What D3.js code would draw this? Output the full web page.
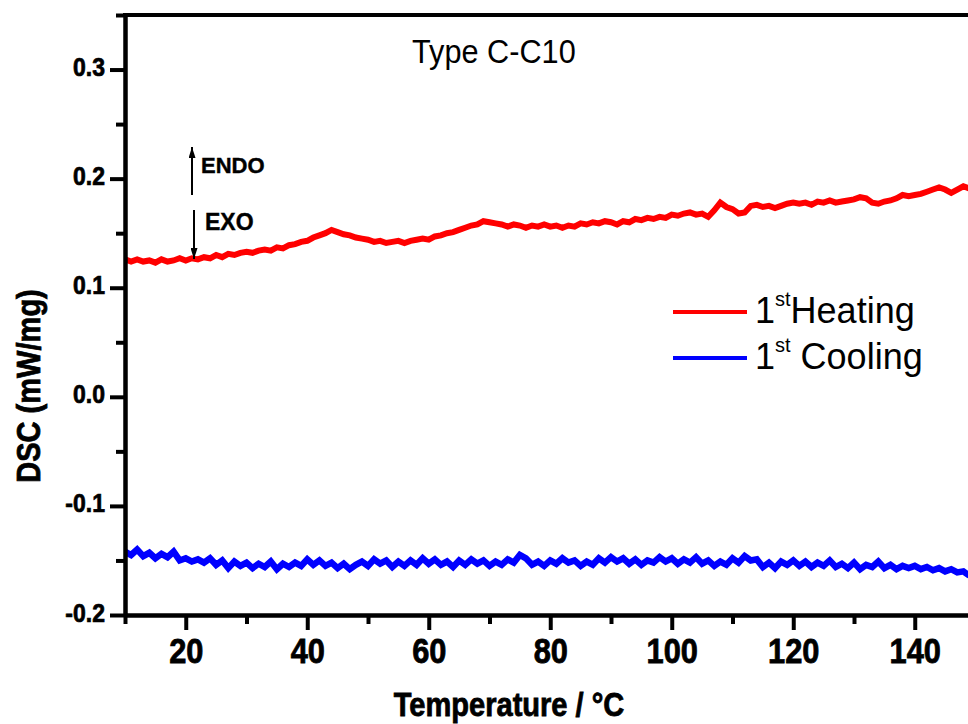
<!DOCTYPE html>
<html><head><meta charset="utf-8">
<script src="https://cdn.jsdelivr.net/npm/d3@7"></script>
<style>
html,body{margin:0;padding:0;background:#fff;}
svg{display:block;}
text{font-family:"Liberation Sans",Arial,sans-serif;}
</style></head>
<body>
<svg id="c" width="968" height="724"></svg>
<script>
const temps = [10,11,12,13,14,15,16,17,18,19,20,21,22,23,24,25,26,27,28,29,30,31,32,33,34,35,36,37,38,39,40,41,42,43,44,45,46,47,48,49,50,51,52,53,54,55,56,57,58,59,60,61,62,63,64,65,66,67,68,69,70,71,72,73,74,75,76,77,78,79,80,81,82,83,84,85,86,87,88,89,90,91,92,93,94,95,96,97,98,99,100,101,102,103,104,105,106,107,108,109,110,111,112,113,114,115,116,117,118,119,120,121,122,123,124,125,126,127,128,129,130,131,132,133,134,135,136,137,138,139,140,141,142,143,144,145,146,147,148,149];
const heating = [.126,.124,.126,.124,.125,.123,.126,.124,.125,.127,.125,.127,.126,.128,.127,.130,.128,.131,.130,.132,.133,.132,.134,.135,.134,.137,.136,.139,.140,.142,.143,.146,.148,.150,.153,.151,.149,.148,.146,.145,.144,.142,.143,.141,.142,.143,.141,.143,.144,.145,.144,.147,.148,.150,.151,.153,.155,.157,.158,.161,.160,.159,.158,.156,.158,.157,.155,.157,.156,.158,.156,.157,.155,.157,.156,.159,.158,.160,.159,.161,.160,.158,.161,.160,.163,.162,.164,.163,.165,.164,.167,.166,.168,.169,.167,.168,.165,.171,.178,.174,.172,.168,.169,.175,.176,.174,.175,.173,.175,.177,.178,.177,.178,.176,.179,.178,.180,.178,.179,.180,.181,.183,.182,.178,.177,.179,.180,.182,.185,.184,.185,.186,.188,.190,.192,.190,.187,.190,.193,.191];
const cooling = [-.142,-.145,-.140,-.146,-.143,-.148,-.144,-.147,-.142,-.150,-.148,-.151,-.149,-.152,-.148,-.154,-.150,-.157,-.151,-.155,-.152,-.157,-.153,-.156,-.151,-.158,-.153,-.156,-.152,-.155,-.149,-.154,-.150,-.155,-.152,-.157,-.153,-.158,-.154,-.151,-.155,-.149,-.153,-.150,-.156,-.151,-.155,-.150,-.154,-.148,-.153,-.149,-.154,-.151,-.156,-.150,-.154,-.149,-.153,-.150,-.155,-.151,-.154,-.149,-.152,-.145,-.148,-.154,-.151,-.155,-.150,-.153,-.148,-.152,-.150,-.155,-.151,-.154,-.148,-.152,-.147,-.151,-.148,-.153,-.149,-.154,-.150,-.152,-.147,-.151,-.148,-.153,-.149,-.152,-.147,-.153,-.150,-.155,-.151,-.154,-.148,-.152,-.146,-.150,-.149,-.156,-.152,-.157,-.151,-.154,-.150,-.155,-.151,-.156,-.152,-.155,-.150,-.156,-.153,-.157,-.152,-.158,-.154,-.156,-.151,-.157,-.154,-.158,-.155,-.157,-.155,-.158,-.156,-.159,-.157,-.160,-.158,-.161,-.160,-.164];
const xMajor = [20,40,60,80,100,120,140];
const xMinor = [10,30,50,70,90,110,130,150];
const yMajor = [-0.2,-0.1,0.0,0.1,0.2,0.3];
const yMajorLabels = ["-0.2","-0.1","0.0","0.1","0.2","0.3"];
const yMinor = [-0.15,-0.05,0.05,0.15,0.25,0.35];
const seriesNames = ["Heating","Cooling"];
const seriesColors = ["#ff0000","#0000ff"];
const title = "Type C-C10";
const xTitle = "Temperature / °C";
const yTitle = "DSC (mW/mg)";

const svg = d3.select("#c");
const L = 125, T = 15, B = 615;
const x = d3.scaleLinear().domain([10,150]).range([L, L + 140*6.075]);
const y = d3.scaleLinear().domain([-0.2,0.35]).range([B, T]);

svg.append("defs").append("clipPath").attr("id","clip")
  .append("rect").attr("x",L).attr("y",T).attr("width",968-L).attr("height",B-T);

// data lines
const line = d3.line().x((d,i)=>x(temps[i])).y(d=>y(d));
const g = svg.append("g").attr("clip-path","url(#clip)");
g.append("path").datum(cooling).attr("d",line).attr("fill","none")
  .attr("stroke",seriesColors[1]).attr("stroke-width",6.5).attr("stroke-linejoin","miter").attr("stroke-miterlimit",10);
g.append("path").datum(heating).attr("d",line).attr("fill","none")
  .attr("stroke",seriesColors[0]).attr("stroke-width",6).attr("stroke-linejoin","miter").attr("stroke-miterlimit",10);

function styleAxis(sel){
  sel.select(".domain").attr("stroke","#000").attr("stroke-width",4);
  sel.selectAll(".tick line").attr("stroke","#000").attr("stroke-width",4);
}
// minor ticks
svg.append("g").attr("transform",`translate(0,${B})`)
  .call(d3.axisBottom(x).tickValues(xMinor).tickSize(9).tickSizeOuter(0).tickFormat(""))
  .call(styleAxis);
svg.append("g").attr("transform",`translate(${L},0)`)
  .call(d3.axisLeft(y).tickValues(yMinor).tickSize(9).tickSizeOuter(0).tickFormat(""))
  .call(styleAxis);
// major
const xa = svg.append("g").attr("transform",`translate(0,${B})`)
  .call(d3.axisBottom(x).tickValues(xMajor).tickSize(15).tickSizeOuter(0).tickFormat(d3.format("d")))
  .call(styleAxis);
xa.selectAll(".tick text").attr("y",0).attr("dy",0)
  .attr("transform","translate(0,48) scale(0.88,1)")
  .attr("font-size",35).attr("font-weight","bold").attr("fill","#000")
  .attr("stroke","#000").attr("stroke-width",0.8);
const ya = svg.append("g").attr("transform",`translate(${L},0)`)
  .call(d3.axisLeft(y).tickValues(yMajor).tickSize(15).tickSizeOuter(0).tickFormat((d,i)=>yMajorLabels[i]))
  .call(styleAxis);
ya.selectAll(".tick text").attr("x",0).attr("dy",0)
  .attr("transform","translate(-20,6) scale(0.92,1)")
  .attr("font-size",25).attr("font-weight","bold").attr("fill","#000")
  .attr("stroke","#000").attr("stroke-width",0.7);

// top border
svg.append("line").attr("x1",L-2).attr("x2",968).attr("y1",T).attr("y2",T)
  .attr("stroke","#000").attr("stroke-width",4);

// titles
svg.append("text").attr("transform",`translate(509,716) scale(0.88,1)`)
  .attr("text-anchor","middle").attr("font-size",33).attr("font-weight","bold")
  .attr("stroke","#000").attr("stroke-width",0.8).text(xTitle);
svg.append("text").attr("transform",`translate(40,386) rotate(-90) scale(0.88,1)`)
  .attr("text-anchor","middle").attr("font-size",33).attr("font-weight","bold")
  .attr("stroke","#000").attr("stroke-width",0.8).text(yTitle);
svg.append("text").attr("transform",`translate(412,63) scale(0.93,1)`)
  .attr("font-size",33).text(title);

// ENDO / EXO arrows
const defs = svg.select("defs");
defs.append("marker").attr("id","ah").attr("viewBox","0 0 10 10").attr("refX",10).attr("refY",5)
  .attr("markerWidth",11).attr("markerHeight",7).attr("markerUnits","userSpaceOnUse").attr("orient","auto")
  .attr("preserveAspectRatio","none")
  .append("path").attr("d","M0,0 L10,5 L0,10 z").attr("fill","#000");
svg.append("line").attr("x1",192).attr("x2",192).attr("y1",195).attr("y2",147)
  .attr("stroke","#000").attr("stroke-width",2).attr("marker-end","url(#ah)");
svg.append("line").attr("x1",194).attr("x2",194).attr("y1",210).attr("y2",259)
  .attr("stroke","#000").attr("stroke-width",2).attr("marker-end","url(#ah)");
svg.append("text").attr("x",201).attr("y",173).attr("font-size",22).attr("font-weight","bold")
  .attr("stroke","#000").attr("stroke-width",0.4).text("ENDO");
svg.append("text").attr("x",205).attr("y",230).attr("font-size",23).attr("font-weight","bold")
  .attr("stroke","#000").attr("stroke-width",0.4).text("EXO");

// legend
const legY = [312,358];
seriesNames.forEach((n,i)=>{
  svg.append("line").attr("x1",673).attr("x2",747).attr("y1",legY[i]).attr("y2",legY[i])
    .attr("stroke",seriesColors[i]).attr("stroke-width",4);
  const t = svg.append("text").attr("x",755).attr("y",legY[i]+11).attr("font-size",36);
  t.append("tspan").text("1");
  t.append("tspan").attr("font-size",20).attr("dy",-17).text("st");
  t.append("tspan").attr("dy",17).text(i===0 ? n : "\u00a0"+n);
});
</script>
</body></html>
